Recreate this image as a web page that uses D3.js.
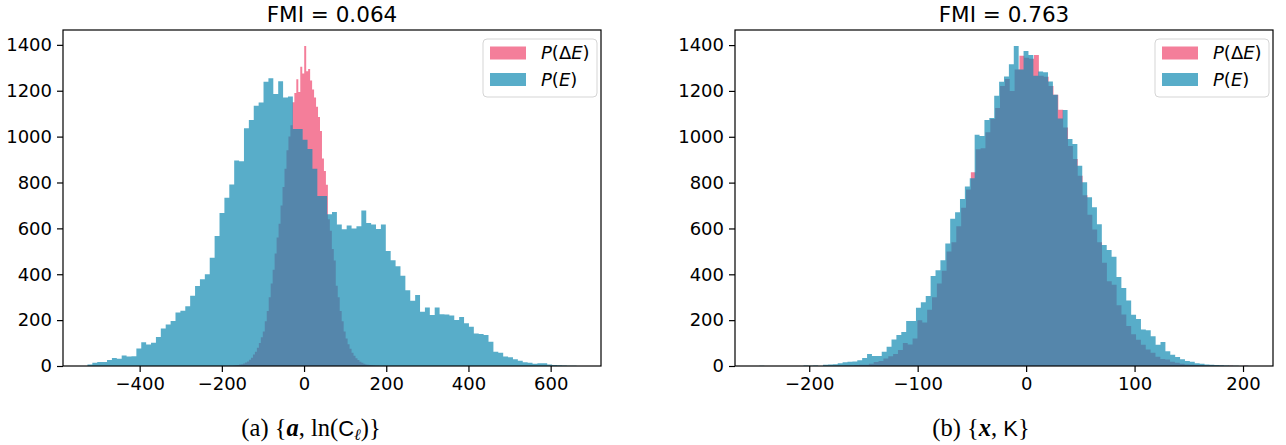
<!DOCTYPE html>
<html><head><meta charset="utf-8">
<script src="https://cdn.jsdelivr.net/npm/d3@7"></script>
<style>
body{margin:0;background:#fff}
</style>
</head><body>
<svg id="c" width="1286" height="445"></svg>
<script>
// ---------------- data ----------------
const titles = ["FMI = 0.064", "FMI = 0.763"];
const seriesNames = ["P(ΔE)", "P(E)"];
const yTicks = [0, 200, 400, 600, 800, 1000, 1200, 1400];
const leftXTicks = [-400, -200, 0, 200, 400, 600];
const rightXTicks = [-200, -100, 0, 100, 200];

// panel (a): P(E) histogram (bin start, bin width, counts)
const aBlueStart = -527, aBlueWidth = 11.9;
const aBlueCounts = [6,14,17,17,26, 35,32,46,41,43, 76,104,94,101,126, 164,181,196,233,241,
  261,306,349,378,400, 472,567,667,733,791, 896,893,1036,1072,1135, 1149,1239,1254,1186,1241,
  1171,1175,1033,1033,986, 946,860,741,741,661, 671,617,596,613,599, 609,678,623,617,597,
  617,501,461,435,393, 330,284,309,236,255, 222,255,226,225,220, 200,214,186,171,142,
  139,135,106,62,58, 41,38,29,23,16, 14,10,12,12,7, 4,3,2,1,1];
// panel (a): P(ΔE)
const aPinkStart = -182, aPinkWidth = 4.8;
const aPinkCounts = [1,1,2,3,4, 6,8,11,15,20, 27,36,50,62,80, 100,125,150,195,240,
  300,360,420,490,560, 620,700,780,860,940, 1000,1050,1150,1190,1250, 1195,1305,1275,1395,1285,
  1295,1245,1205,1170,1130, 1085,1025,905,850,790, 640,590,510,460,350, 300,240,195,150,120,
  95,75,58,45,34, 26,19,14,10,7, 5,4,3,2,1, 1];

// panel (b): P(E)
const bBlueStart = -245.9, bBlueWidth = 4.51;
const bBlueCounts = [1,0,0,0,0, 0,0,0,0,2, 1,2,0,5,7, 8,12,16,18,20,
  25,35,52,44,44, 62,84,116,135,148, 196,196,254,278,305, 393,418,461,534,642,
  671,729,783,819,1009, 1003,1073,1082,1179,1240, 1263,1316,1396,1294,1374, 1357,1266,1285,1282,1241,
  1183,1080,1117,990,968, 874,802,736,693,618, 528,506,477,388,340, 286,224,205,159,156,
  130,93,105,64,49, 39,29,22,18,12, 10,7,5,4,3, 2,1,1,0,1];
// panel (b): P(ΔE)
const bPinkStart = -243.6, bPinkWidth = 4.48;
const bPinkCounts = [0,0,0,0,0, 0,0,0,0,0, 0,0,0,0,0, 1,1,2,2,4,
  5,6,10,17,22, 33,42,52,70,100, 94,120,200,190,245, 300,360,415,500,540,
  610,690,770,845,946, 950,1020,1077,1125,1222, 1252,1200,1294,1353,1345, 1340,1357,1266,1262,1222,
  1183,1118,1040,960,903, 830,745,660,595,540, 450,370,355,265,225, 175,138,115,93,72,
  58,40,31,28,19, 14,10,7,5,4, 3,2,2,1,1, 0,1,0,0,1];

// ---------------- style / layout ----------------
const PINK = "#ef476f", BLUE = "#118ab2", ALPHA = 0.7;
const TOP = 30, BOTTOM = 366;
const SANS = "'DejaVu Sans', sans-serif";
const svg = d3.select("#c");

const panels = [
  { title: titles[0], left: 63, right: 601, xTicks: leftXTicks, capX: 311,
    pink: {start: aPinkStart, width: aPinkWidth, counts: aPinkCounts},
    blue: {start: aBlueStart, width: aBlueWidth, counts: aBlueCounts},
    caption: [["(a) {", "n"], ["a", "bi"], [", ln(", "n"], ["C", "s"], ["ℓ", "sub"], [")}", "up"]] },
  { title: titles[1], left: 735, right: 1273, xTicks: rightXTicks, capX: 981,
    pink: {start: bPinkStart, width: bPinkWidth, counts: bPinkCounts},
    blue: {start: bBlueStart, width: bBlueWidth, counts: bBlueCounts},
    caption: [["(b) {", "n"], ["x", "bi"], [", ", "n"], ["K", "s"], ["}", "n"]] }
];

panels.forEach(p => {
  const series = [Object.assign({color: PINK}, p.pink), Object.assign({color: BLUE}, p.blue)];
  const lo = d3.min(series, s => s.start);
  const hi = d3.max(series, s => s.start + s.counts.length * s.width);
  const pad = (hi - lo) * 0.05;
  const x = d3.scaleLinear().domain([lo - pad, hi + pad]).range([p.left, p.right]);
  const ymax = d3.max(series, s => d3.max(s.counts)) * 1.05;
  const y = d3.scaleLinear().domain([0, ymax]).range([BOTTOM, TOP]);
  const g = svg.append("g");

  const clipId = "clip" + p.left;
  svg.append("clipPath").attr("id", clipId).append("rect")
    .attr("x", p.left).attr("y", TOP).attr("width", p.right - p.left).attr("height", BOTTOM - TOP);

  const area = d3.area().curve(d3.curveStepAfter)
    .x(d => x(d[0])).y0(y(0)).y1(d => y(d[1]));
  series.forEach(s => {
    const pts = s.counts.map((c, i) => [s.start + i * s.width, c]);
    pts.push([s.start + s.counts.length * s.width, s.counts[s.counts.length - 1]]);
    g.append("path").attr("d", area(pts)).attr("fill", s.color).attr("fill-opacity", ALPHA)
      .attr("clip-path", `url(#${clipId})`);
  });

  // axes
  const xa = g.append("g").attr("transform", `translate(0,${BOTTOM})`)
    .call(d3.axisBottom(x).tickValues(p.xTicks).tickSize(6).tickPadding(5).tickFormat(d3.format("d")));
  const ya = g.append("g").attr("transform", `translate(${p.left},0)`)
    .call(d3.axisLeft(y).tickValues(yTicks).tickSize(6).tickPadding(5).tickFormat(d3.format("d")));
  [xa, ya].forEach(a => {
    a.select(".domain").remove();
    a.selectAll("line").attr("stroke", "#000").attr("stroke-width", 1.2);
    a.selectAll("text").attr("fill", "#000").style("font-size", "18px").style("font-family", SANS);
  });

  // frame
  g.append("rect").attr("x", p.left).attr("y", TOP).attr("width", p.right - p.left)
    .attr("height", BOTTOM - TOP).attr("fill", "none").attr("stroke", "#000").attr("stroke-width", 1.2);

  // title
  g.append("text").attr("x", (p.left + p.right) / 2).attr("y", 22).attr("text-anchor", "middle")
    .style("font-size", "21.5px").style("font-family", SANS).attr("fill", "#000").text(p.title);

  // legend
  const lx = p.right - 118, ly = 39;
  g.append("rect").attr("x", lx).attr("y", ly).attr("width", 114).attr("height", 58)
    .attr("rx", 4).attr("fill", "#fff").attr("fill-opacity", 0.8).attr("stroke", "#d5d5d5");
  series.forEach((s, i) => {
    g.append("rect").attr("x", lx + 7).attr("y", ly + 7.5 + i * 26.5).attr("width", 36).attr("height", 13)
      .attr("fill", s.color).attr("fill-opacity", ALPHA);
    const name = seriesNames[i];
    const t = g.append("text").attr("x", lx + 58).attr("y", ly + 20 + i * 26.5)
      .style("font-size", "18px").style("font-family", SANS).attr("fill", "#000");
    name.split("").forEach(ch => {
      t.append("tspan").style("font-style", /[A-Za-z]/.test(ch) ? "italic" : "normal").text(ch);
    });
  });

  // caption
  const cap = svg.append("text").attr("x", p.capX).attr("y", 436).attr("text-anchor", "middle")
    .style("font-size", "24.5px").style("font-family", "'Liberation Serif', serif").attr("fill", "#000");
  p.caption.forEach(([txt, st]) => {
    const ts = cap.append("tspan").text(txt);
    if (st === "bi") ts.style("font-weight", "bold").style("font-style", "italic");
    if (st === "s") ts.style("font-family", "'Liberation Sans', sans-serif").style("font-size", "22px");
    if (st === "sub") ts.style("font-style", "italic").style("font-size", "16px").attr("dy", 4);
    if (st === "up") ts.attr("dy", -4);
  });
});
</script>
</body></html>
